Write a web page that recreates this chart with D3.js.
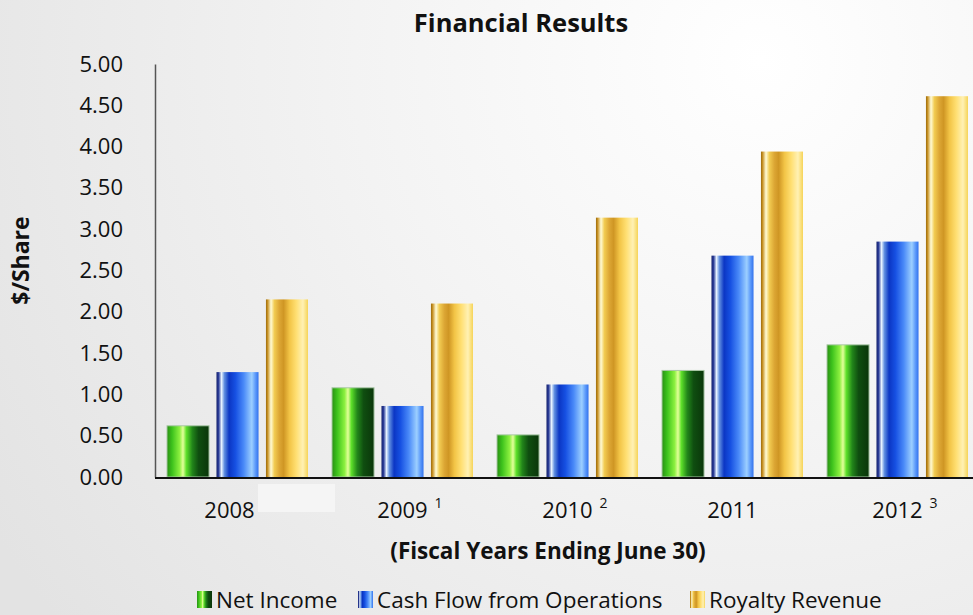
<!DOCTYPE html>
<html>
<head>
<meta charset="utf-8">
<script src="https://cdn.jsdelivr.net/npm/d3@7"></script>
<style>
  html, body { margin: 0; padding: 0; overflow: hidden; }
  body { width: 973px; height: 615px; }
  text { font-family: "Open Sans", "Noto Sans", sans-serif; fill: #111; }
</style>
</head>
<body>
<svg id="chart" width="973" height="615"></svg>
<script>
// Fiscal years and footnote markers
const years = ["2008", "2009", "2010", "2011", "2012"];
const footnotes = ["", "1", "2", "", "3"];

// Per-share values for each series
const netIncome = [0.62, 1.08, 0.51, 1.29, 1.60];
const cashFlow = [1.27, 0.86, 1.12, 2.68, 2.85];
const royaltyRevenue = [2.15, 2.10, 3.14, 3.94, 4.61];

const seriesNames = ["Net Income", "Cash Flow from Operations", "Royalty Revenue"];
const yTicks = [0, 0.5, 1, 1.5, 2, 2.5, 3, 3.5, 4, 4.5, 5];

const seriesValues = [netIncome, cashFlow, royaltyRevenue];
const seriesKeys = ["green", "blue", "gold"];

const svg = d3.select("#chart");
const W = 973, H = 615;
const m = { left: 155, right: -7, top: 64, bottom: 138 };

const defs = svg.append("defs");

// Soft page background, brighter toward the upper right
const bg = defs.append("radialGradient").attr("id", "bg")
  .attr("gradientUnits", "userSpaceOnUse")
  .attr("cx", 760).attr("cy", 60).attr("r", 900);
[[0, "#ffffff"], [0.45, "#f3f3f3"], [1, "#e3e3e3"]].forEach(([o, c]) =>
  bg.append("stop").attr("offset", o).attr("stop-color", c));
svg.append("rect").attr("width", W).attr("height", H).attr("fill", "url(#bg)");

// Faint patch beside the first category label
svg.append("rect").attr("x", 258).attr("y", 484).attr("width", 77).attr("height", 28)
  .attr("fill", "#f5f5f5");

// Cylindrical bar fills
const gradStops = {
  green: [[0, "#2a8f14"], [0.12, "#3cc21c"], [0.3, "#8cf040"], [0.38, "#e4ff9a"], [0.46, "#5ee02a"],
          [0.6, "#22861a"], [0.75, "#0f4e10"], [1, "#0a360a"]],
  blue:  [[0, "#17236e"], [0.05, "#2a3c98"], [0.12, "#e6f2ff"], [0.19, "#5f8ee0"], [0.3, "#0b36c4"],
          [0.45, "#1650e2"], [0.65, "#4a8af8"], [0.84, "#9ccfff"], [0.93, "#5a98fa"], [1, "#3272ec"]],
  gold:  [[0, "#9a6a0c"], [0.04, "#c89224"], [0.12, "#fffbd6"], [0.2, "#f2cc52"], [0.32, "#dca634"],
          [0.42, "#cf9624"], [0.56, "#f2c446"], [0.72, "#ffdf72"], [0.88, "#fff1b4"], [1, "#f6d458"]]
};
seriesKeys.forEach(k => {
  const g = defs.append("linearGradient").attr("id", "g-" + k)
    .attr("x1", 0).attr("y1", 0).attr("x2", 1).attr("y2", 0);
  gradStops[k].forEach(([o, c]) => g.append("stop").attr("offset", o).attr("stop-color", c));
});

const x0 = d3.scaleBand().domain(years).range([m.left, W - m.right]).paddingInner(0).paddingOuter(0);
const x1 = d3.scaleBand().domain(seriesKeys).range([12, x0.bandwidth() - 12]).paddingInner(0.15);
const y = d3.scaleLinear().domain([0, 5]).range([H - m.bottom, m.top]);

// Title
svg.append("text").attr("x", 521).attr("y", 32).attr("text-anchor", "middle")
  .attr("font-size", 25.5).attr("font-weight", "bold").text("Financial Results");

// Y axis
const yAxis = svg.append("g").attr("transform", `translate(${m.left},0)`)
  .call(d3.axisLeft(y).tickValues(yTicks).tickFormat(d3.format(".2f")).tickSize(0).tickPadding(32));
yAxis.select(".domain").attr("stroke", "#555").attr("stroke-width", 1.5);
yAxis.selectAll("text").attr("font-size", 22).attr("fill", "#111")
  .attr("font-family", "'Open Sans', sans-serif");

svg.append("text").attr("transform", `translate(29,${y(2.62)}) rotate(-90)`)
  .attr("text-anchor", "middle").attr("font-size", 23).attr("font-weight", "bold").text("$/Share");

// Bars
const groups = svg.append("g").selectAll("g").data(years).join("g")
  .attr("transform", d => `translate(${x0(d)},0)`);
groups.selectAll("rect")
  .data((d, i) => seriesKeys.map((k, s) => ({ k, v: seriesValues[s][i] })))
  .join("rect")
  .attr("x", d => x1(d.k))
  .attr("width", x1.bandwidth())
  .attr("y", d => y(d.v))
  .attr("height", d => y(0) - y(d.v))
  .attr("fill", d => `url(#g-${d.k})`)
  .attr("stroke", d => d.k === "green" ? "#a9c8a6" : "none")
  .attr("stroke-width", 1);

// X axis line
svg.append("line").attr("x1", m.left).attr("x2", W).attr("y1", y(0) + 1).attr("y2", y(0) + 1)
  .attr("stroke", "#111").attr("stroke-width", 2);

// Category labels with footnote markers
const xl = svg.append("g").selectAll("g").data(years).join("g")
  .attr("transform", (d, i) => `translate(${x0(d) + x0.bandwidth() / 2 - (i === 0 ? 8 : 0)},518)`);
xl.append("text").attr("text-anchor", "middle").attr("font-size", 22).text(d => d);
xl.append("text").attr("x", 32).attr("y", -10).attr("font-size", 14)
  .text((d, i) => footnotes[i]);

svg.append("text").attr("x", 548).attr("y", 559).attr("text-anchor", "middle")
  .attr("font-size", 22.5).attr("font-weight", "bold").text("(Fiscal Years Ending June 30)");

// Legend
const legendItems = [
  { key: "green", name: seriesNames[0], x: 197 },
  { key: "blue", name: seriesNames[1], x: 358 },
  { key: "gold", name: seriesNames[2], x: 690 }
];
const lg = svg.append("g").selectAll("g").data(legendItems).join("g")
  .attr("transform", d => `translate(${d.x},0)`);
lg.append("rect").attr("x", 0).attr("y", 591).attr("width", 15).attr("height", 17)
  .attr("fill", d => `url(#g-${d.key})`);
lg.append("text").attr("x", 19).attr("y", 608).attr("font-size", 22.5).text(d => d.name);
</script>
</body>
</html>
